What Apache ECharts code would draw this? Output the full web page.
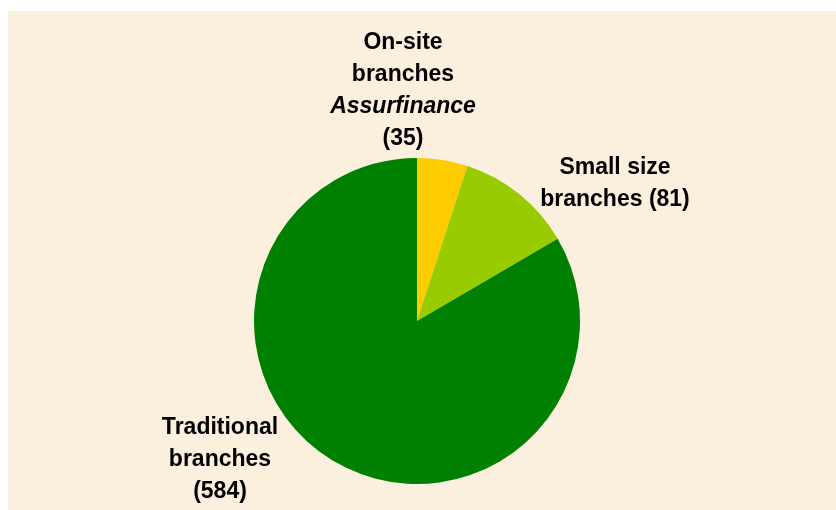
<!DOCTYPE html>
<html>
<head>
<meta charset="utf-8">
<script src="https://cdn.jsdelivr.net/npm/echarts@6/dist/echarts.min.js"></script>
<style>
  html, body { margin: 0; padding: 0; background: #ffffff; }
  #chart { position: absolute; left: 8px; top: 11px; width: 828px; height: 499px; background: #FBEFDE; }
</style>
</head>
<body>
<div id="chart"></div>
<script>
// Branch network breakdown
const categories = ['On-site branches', 'Small size branches', 'Traditional branches'];
const values = [35, 81, 584];
const colors = ['#FFCC00', '#99CC00', '#008000'];

const chart = echarts.init(document.getElementById('chart'));

// Label text per slice; the on-site label carries an italic sub-brand line
function labelText(idx, v) {
  if (idx === 0) return '{b|On-site}\n{b|branches}\n{i|Assurfinance}\n{b|(' + v + ')}';
  if (idx === 1) return '{b|Small size}\n{b|branches (' + v + ')}';
  return '{b|Traditional}\n{b|branches}\n{b|(' + v + ')}';
}

// Label block centres, in chart-container pixels
const labelCentres = [[395, 80], [607, 173], [212, 449]];

const option = {
  backgroundColor: '#FBEFDE',
  animation: false,
  series: [{
    type: 'pie',
    center: [409, 310],
    radius: [0, 163],
    startAngle: 90,
    clockwise: true,
    silent: true,
    data: categories.map((name, i) => ({
      name: name,
      value: values[i],
      itemStyle: { color: colors[i] }
    })),
    label: {
      show: true,
      position: 'outside',
      align: 'center',
      formatter: p => labelText(p.dataIndex, p.value),
      rich: {
        b: { fontFamily: 'Liberation Sans, Arial, sans-serif', fontWeight: 'bold', fontSize: 23, lineHeight: 32, color: '#000', align: 'center' },
        i: { fontFamily: 'Liberation Sans, Arial, sans-serif', fontWeight: 'bold', fontStyle: 'italic', fontSize: 23, lineHeight: 32, color: '#000', align: 'center' }
      }
    },
    labelLine: { show: false },
    labelLayout: function (params) {
      const c = labelCentres[params.dataIndex];
      return { x: c[0], y: c[1], align: 'center', verticalAlign: 'middle' };
    }
  }]
};

chart.setOption(option);
</script>
</body>
</html>
